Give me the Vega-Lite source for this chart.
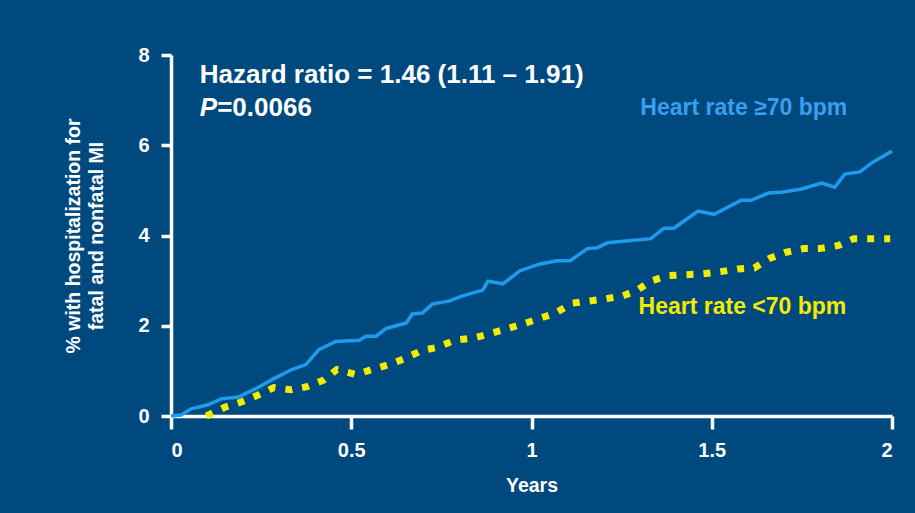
{
  "$schema": "https://vega.github.io/schema/vega-lite/v6.json",
  "width": 721,
  "height": 361,
  "autosize": {"type": "none"},
  "padding": {"left": 171, "top": 55, "right": 23, "bottom": 97},
  "background": "#00497e",
  "config": {
    "view": {"stroke": null},
    "font": "Liberation Sans",
    "axis": {
      "grid": false,
      "domainColor": "white",
      "domainWidth": 3.5,
      "tickColor": "white",
      "tickWidth": 3.5,
      "labelColor": "white",
      "labelFont": "Liberation Sans",
      "labelFontWeight": "bold",
      "labelFontSize": 20,
      "titleColor": "white",
      "titleFont": "Liberation Sans",
      "titleFontWeight": "bold"
    }
  },
  "datasets": {
    "curves": [
      {"group": "hi", "t": 0.0, "pct": 0.0},
      {"group": "hi", "t": 0.028, "pct": 0.02},
      {"group": "hi", "t": 0.056, "pct": 0.16},
      {"group": "hi", "t": 0.103, "pct": 0.25},
      {"group": "hi", "t": 0.139, "pct": 0.38},
      {"group": "hi", "t": 0.187, "pct": 0.42},
      {"group": "hi", "t": 0.234, "pct": 0.6},
      {"group": "hi", "t": 0.279, "pct": 0.8},
      {"group": "hi", "t": 0.335, "pct": 1.03},
      {"group": "hi", "t": 0.374, "pct": 1.14},
      {"group": "hi", "t": 0.41, "pct": 1.47},
      {"group": "hi", "t": 0.457, "pct": 1.65},
      {"group": "hi", "t": 0.522, "pct": 1.68},
      {"group": "hi", "t": 0.541, "pct": 1.77},
      {"group": "hi", "t": 0.569, "pct": 1.77},
      {"group": "hi", "t": 0.597, "pct": 1.94},
      {"group": "hi", "t": 0.653, "pct": 2.06},
      {"group": "hi", "t": 0.669, "pct": 2.26},
      {"group": "hi", "t": 0.697, "pct": 2.28},
      {"group": "hi", "t": 0.725, "pct": 2.48},
      {"group": "hi", "t": 0.773, "pct": 2.55},
      {"group": "hi", "t": 0.801, "pct": 2.64},
      {"group": "hi", "t": 0.837, "pct": 2.73},
      {"group": "hi", "t": 0.865, "pct": 2.79},
      {"group": "hi", "t": 0.879, "pct": 2.99},
      {"group": "hi", "t": 0.921, "pct": 2.93},
      {"group": "hi", "t": 0.968, "pct": 3.22},
      {"group": "hi", "t": 1.024, "pct": 3.37},
      {"group": "hi", "t": 1.071, "pct": 3.44},
      {"group": "hi", "t": 1.107, "pct": 3.44},
      {"group": "hi", "t": 1.155, "pct": 3.71},
      {"group": "hi", "t": 1.183, "pct": 3.73},
      {"group": "hi", "t": 1.211, "pct": 3.84},
      {"group": "hi", "t": 1.331, "pct": 3.93},
      {"group": "hi", "t": 1.367, "pct": 4.16},
      {"group": "hi", "t": 1.395, "pct": 4.16},
      {"group": "hi", "t": 1.462, "pct": 4.54},
      {"group": "hi", "t": 1.506, "pct": 4.47},
      {"group": "hi", "t": 1.582, "pct": 4.78},
      {"group": "hi", "t": 1.609, "pct": 4.78},
      {"group": "hi", "t": 1.657, "pct": 4.94},
      {"group": "hi", "t": 1.693, "pct": 4.96},
      {"group": "hi", "t": 1.749, "pct": 5.03},
      {"group": "hi", "t": 1.805, "pct": 5.16},
      {"group": "hi", "t": 1.841, "pct": 5.07},
      {"group": "hi", "t": 1.869, "pct": 5.36},
      {"group": "hi", "t": 1.911, "pct": 5.41},
      {"group": "hi", "t": 1.944, "pct": 5.61},
      {"group": "hi", "t": 2.0, "pct": 5.87},
      {"group": "lo", "t": 0.098, "pct": 0.0},
      {"group": "lo", "t": 0.151, "pct": 0.2},
      {"group": "lo", "t": 0.195, "pct": 0.31},
      {"group": "lo", "t": 0.243, "pct": 0.47},
      {"group": "lo", "t": 0.285, "pct": 0.63},
      {"group": "lo", "t": 0.332, "pct": 0.58},
      {"group": "lo", "t": 0.377, "pct": 0.65},
      {"group": "lo", "t": 0.424, "pct": 0.8},
      {"group": "lo", "t": 0.46, "pct": 1.03},
      {"group": "lo", "t": 0.513, "pct": 0.92},
      {"group": "lo", "t": 0.558, "pct": 1.03},
      {"group": "lo", "t": 0.605, "pct": 1.14},
      {"group": "lo", "t": 0.647, "pct": 1.27},
      {"group": "lo", "t": 0.695, "pct": 1.45},
      {"group": "lo", "t": 0.739, "pct": 1.52},
      {"group": "lo", "t": 0.787, "pct": 1.68},
      {"group": "lo", "t": 0.834, "pct": 1.72},
      {"group": "lo", "t": 0.879, "pct": 1.81},
      {"group": "lo", "t": 0.926, "pct": 1.92},
      {"group": "lo", "t": 0.973, "pct": 2.03},
      {"group": "lo", "t": 1.018, "pct": 2.15},
      {"group": "lo", "t": 1.066, "pct": 2.28},
      {"group": "lo", "t": 1.113, "pct": 2.5},
      {"group": "lo", "t": 1.199, "pct": 2.59},
      {"group": "lo", "t": 1.252, "pct": 2.66},
      {"group": "lo", "t": 1.294, "pct": 2.79},
      {"group": "lo", "t": 1.331, "pct": 2.99},
      {"group": "lo", "t": 1.378, "pct": 3.11},
      {"group": "lo", "t": 1.423, "pct": 3.13},
      {"group": "lo", "t": 1.476, "pct": 3.15},
      {"group": "lo", "t": 1.526, "pct": 3.2},
      {"group": "lo", "t": 1.573, "pct": 3.26},
      {"group": "lo", "t": 1.618, "pct": 3.28},
      {"group": "lo", "t": 1.66, "pct": 3.49},
      {"group": "lo", "t": 1.702, "pct": 3.62},
      {"group": "lo", "t": 1.755, "pct": 3.71},
      {"group": "lo", "t": 1.799, "pct": 3.71},
      {"group": "lo", "t": 1.852, "pct": 3.78},
      {"group": "lo", "t": 1.894, "pct": 3.93},
      {"group": "lo", "t": 1.939, "pct": 3.93},
      {"group": "lo", "t": 1.995, "pct": 3.93}
    ]
  },
  "layer": [
    {
      "data": {"name": "curves"},
      "transform": [{"filter": "datum.group === 'lo'"}],
      "mark": {"type": "line", "color": "#f2ec00", "strokeWidth": 7, "strokeDash": [7, 10], "strokeCap": "butt", "interpolate": "linear"},
      "encoding": {
        "x": {
          "field": "t", "type": "quantitative",
          "scale": {"domain": [0, 2], "nice": false, "zero": false},
          "axis": {"values": [0, 0.5, 1, 1.5, 2], "format": "~g", "tickSize": 13, "labelPadding": 11, "title": "Years", "titleFontSize": 19.5, "titlePadding": 16}
        },
        "y": {
          "field": "pct", "type": "quantitative",
          "scale": {"domain": [0, 8], "nice": false},
          "axis": {"values": [0, 2, 4, 6, 8], "tickSize": 10, "labelPadding": 12, "title": ["% with hospitalization for", "fatal and nonfatal MI"], "titleFontSize": 19.5, "titleLineHeight": 23, "titlePadding": 31}
        }
      }
    },
    {
      "data": {"name": "curves"},
      "transform": [{"filter": "datum.group === 'hi'"}],
      "mark": {"type": "line", "color": "#1f9bec", "strokeWidth": 3.5},
      "encoding": {
        "x": {"field": "t", "type": "quantitative"},
        "y": {"field": "pct", "type": "quantitative"}
      }
    },
    {
      "data": {"values": [{"label": "Hazard ratio = 1.46 (1.11 \u2013 1.91)"}]},
      "mark": {"type": "text", "align": "left", "baseline": "alphabetic", "fontSize": 26, "fontWeight": "bold", "color": "white", "font": "Liberation Sans"},
      "encoding": {
        "x": {"datum": 0.08, "type": "quantitative"},
        "y": {"datum": 7.38, "type": "quantitative"},
        "text": {"field": "label"}
      }
    },
    {
      "data": {"values": [{"label": "P"}]},
      "mark": {"type": "text", "align": "left", "baseline": "alphabetic", "fontSize": 26, "fontWeight": "bold", "fontStyle": "italic", "color": "white", "font": "Liberation Sans"},
      "encoding": {
        "x": {"datum": 0.08, "type": "quantitative"},
        "y": {"datum": 6.64, "type": "quantitative"},
        "text": {"field": "label"}
      }
    },
    {
      "data": {"values": [{"label": "=0.0066"}]},
      "mark": {"type": "text", "align": "left", "baseline": "alphabetic", "fontSize": 26, "fontWeight": "bold", "color": "white", "font": "Liberation Sans"},
      "encoding": {
        "x": {"datum": 0.128, "type": "quantitative"},
        "y": {"datum": 6.64, "type": "quantitative"},
        "text": {"field": "label"}
      }
    },
    {
      "data": {"values": [{"label": "Heart rate \u226570 bpm"}]},
      "mark": {"type": "text", "align": "left", "baseline": "middle", "fontSize": 23, "fontWeight": "bold", "color": "#3a9ff0", "font": "Liberation Sans"},
      "encoding": {
        "x": {"datum": 1.302, "type": "quantitative"},
        "y": {"datum": 6.83, "type": "quantitative"},
        "text": {"field": "label"}
      }
    },
    {
      "data": {"values": [{"label": "Heart rate <70 bpm"}]},
      "mark": {"type": "text", "align": "left", "baseline": "middle", "fontSize": 23, "fontWeight": "bold", "color": "#f2ec00", "font": "Liberation Sans"},
      "encoding": {
        "x": {"datum": 1.297, "type": "quantitative"},
        "y": {"datum": 2.41, "type": "quantitative"},
        "text": {"field": "label"}
      }
    }
  ]
}
